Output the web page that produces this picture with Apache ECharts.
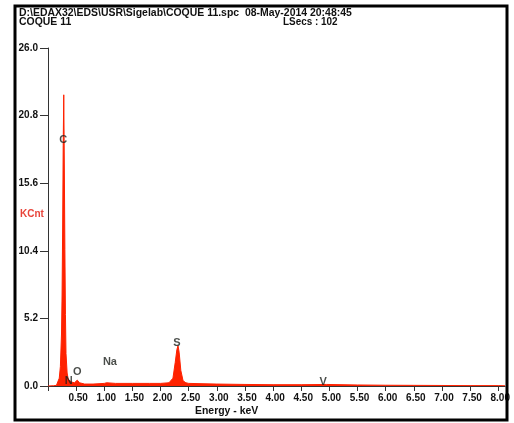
<!DOCTYPE html>
<html>
<head>
<meta charset="utf-8">
<script src="https://cdn.jsdelivr.net/npm/echarts@6/dist/echarts.min.js"></script>
<style>
html,body{margin:0;padding:0;background:#fff;}
#c{width:514px;height:423px;}
</style>
</head>
<body>
<div id="c"></div>
<script>
// Spectrum (energy in keV, counts in KCnt)
var energies = [0.00,0.10,0.15,0.18,0.20,0.22,0.24,0.25,0.26,0.27,0.28,0.29,0.30,0.31,0.32,0.34,0.36,0.39,0.42,0.47,0.52,0.56,0.65,0.80,1.00,1.04,1.20,1.50,1.80,2.00,2.15,2.22,2.26,2.29,2.31,2.33,2.36,2.40,2.45,2.50,3.00,3.50,4.00,4.50,4.95,5.50,6.00,6.50,7.00,7.50,8.00,8.12];
var counts   = [0.00,0.02,0.05,0.20,0.60,1.50,4.00,7.00,12.0,18.5,22.4,17.0,10.5,5.50,2.50,1.00,0.50,0.45,0.30,0.25,0.45,0.25,0.15,0.15,0.20,0.25,0.20,0.20,0.20,0.20,0.25,0.60,1.80,2.80,3.10,2.60,1.20,0.40,0.25,0.20,0.15,0.12,0.10,0.10,0.12,0.08,0.06,0.05,0.04,0.03,0.03,0.02];
// Element annotations: name, energy, height (KCnt) where the label sits
var elemNames   = ['C','N','O','Na','S','V'];
var elemEnergy  = [0.27,0.37,0.52,1.10,2.29,4.89];
var elemHeight  = [18.9,0.38,1.08,1.85,3.30,0.30];
// Axis ticks
var yTicks = [0,5.2,10.4,15.6,20.8,26.0];
var xInterval = 0.5;

var FONT = '"Liberation Sans Narrow","Liberation Sans",Arial,sans-serif';
var chart = echarts.init(document.getElementById('c'), null, {renderer:'canvas'});

var specData = energies.map(function(e,i){return [e,counts[i]];});
var elemData = elemNames.map(function(n,i){return {name:n, value:[elemEnergy[i], elemHeight[i]]};});

chart.setOption({
  backgroundColor:'#fff',
  animation:false,
  grid:{left:48, top:48, width:457, height:338},
  xAxis:{
    type:'value', min:0, max:8.12, interval:xInterval,
    axisLine:{show:true, onZero:false, lineStyle:{color:'#333', width:1}},
    axisTick:{show:true, length:5, lineStyle:{color:'#333'}},
    splitLine:{show:false},
    axisLabel:{
      color:'#111', fontFamily:FONT, fontWeight:'bold', fontSize:10, margin:7,
      showMaxLabel:false, padding:[0,0,0,4],
      formatter:function(v){ if(v===0) return ''; if(Math.abs(v/0.5-Math.round(v/0.5))>1e-6) return ''; return v.toFixed(2);} 
    }
  },
  yAxis:{
    type:'value', min:0, max:26, interval:5.2,
    axisLine:{show:true, lineStyle:{color:'#333', width:1}},
    axisTick:{show:true, length:8, lineStyle:{color:'#333'}},
    splitLine:{show:false},
    axisLabel:{color:'#111', fontFamily:FONT, fontWeight:'bold', fontSize:10, margin:10,
      formatter:function(v){return v.toFixed(1);} }
  },
  series:[
    {type:'line', data:specData, showSymbol:false, symbol:'none',
     lineStyle:{color:'#ff2200', width:1}, areaStyle:{color:'#ff2200', opacity:1}, z:2},
    {type:'scatter', data:elemData, symbolSize:0, z:3,
     label:{show:true, position:'inside', formatter:'{b}', color:'#1b1f1b', fontFamily:FONT, fontWeight:'bold', fontSize:11}}
  ],
  graphic:[
    {type:'rect', shape:{x:15, y:6, width:492, height:414}, style:{fill:'none', stroke:'#000', lineWidth:3}, z:10},
    {type:'text', x:19, y:7, scaleX:0.95, style:{text:'D:\\EDAX32\\EDS\\USR\\Sigelab\\COQUE 11.spc  08-May-2014 20:48:45', fill:'#111', font:'bold 11px '+FONT}},
    {type:'text', x:19, y:16, scaleX:0.95, style:{text:'COQUE 11', fill:'#111', font:'bold 11px '+FONT}},
    {type:'text', x:283, y:16, scaleX:0.9, style:{text:'LSecs : 102', fill:'#111', font:'bold 11px '+FONT}},
    {type:'text', x:20, y:209, style:{text:'KCnt', fill:'#e8443a', font:'bold 10px '+FONT}},
    {type:'text', x:195, y:405, scaleX:0.95, style:{text:'Energy - keV', fill:'#111', font:'bold 11px '+FONT}}
  ]
});
</script>
</body>
</html>
